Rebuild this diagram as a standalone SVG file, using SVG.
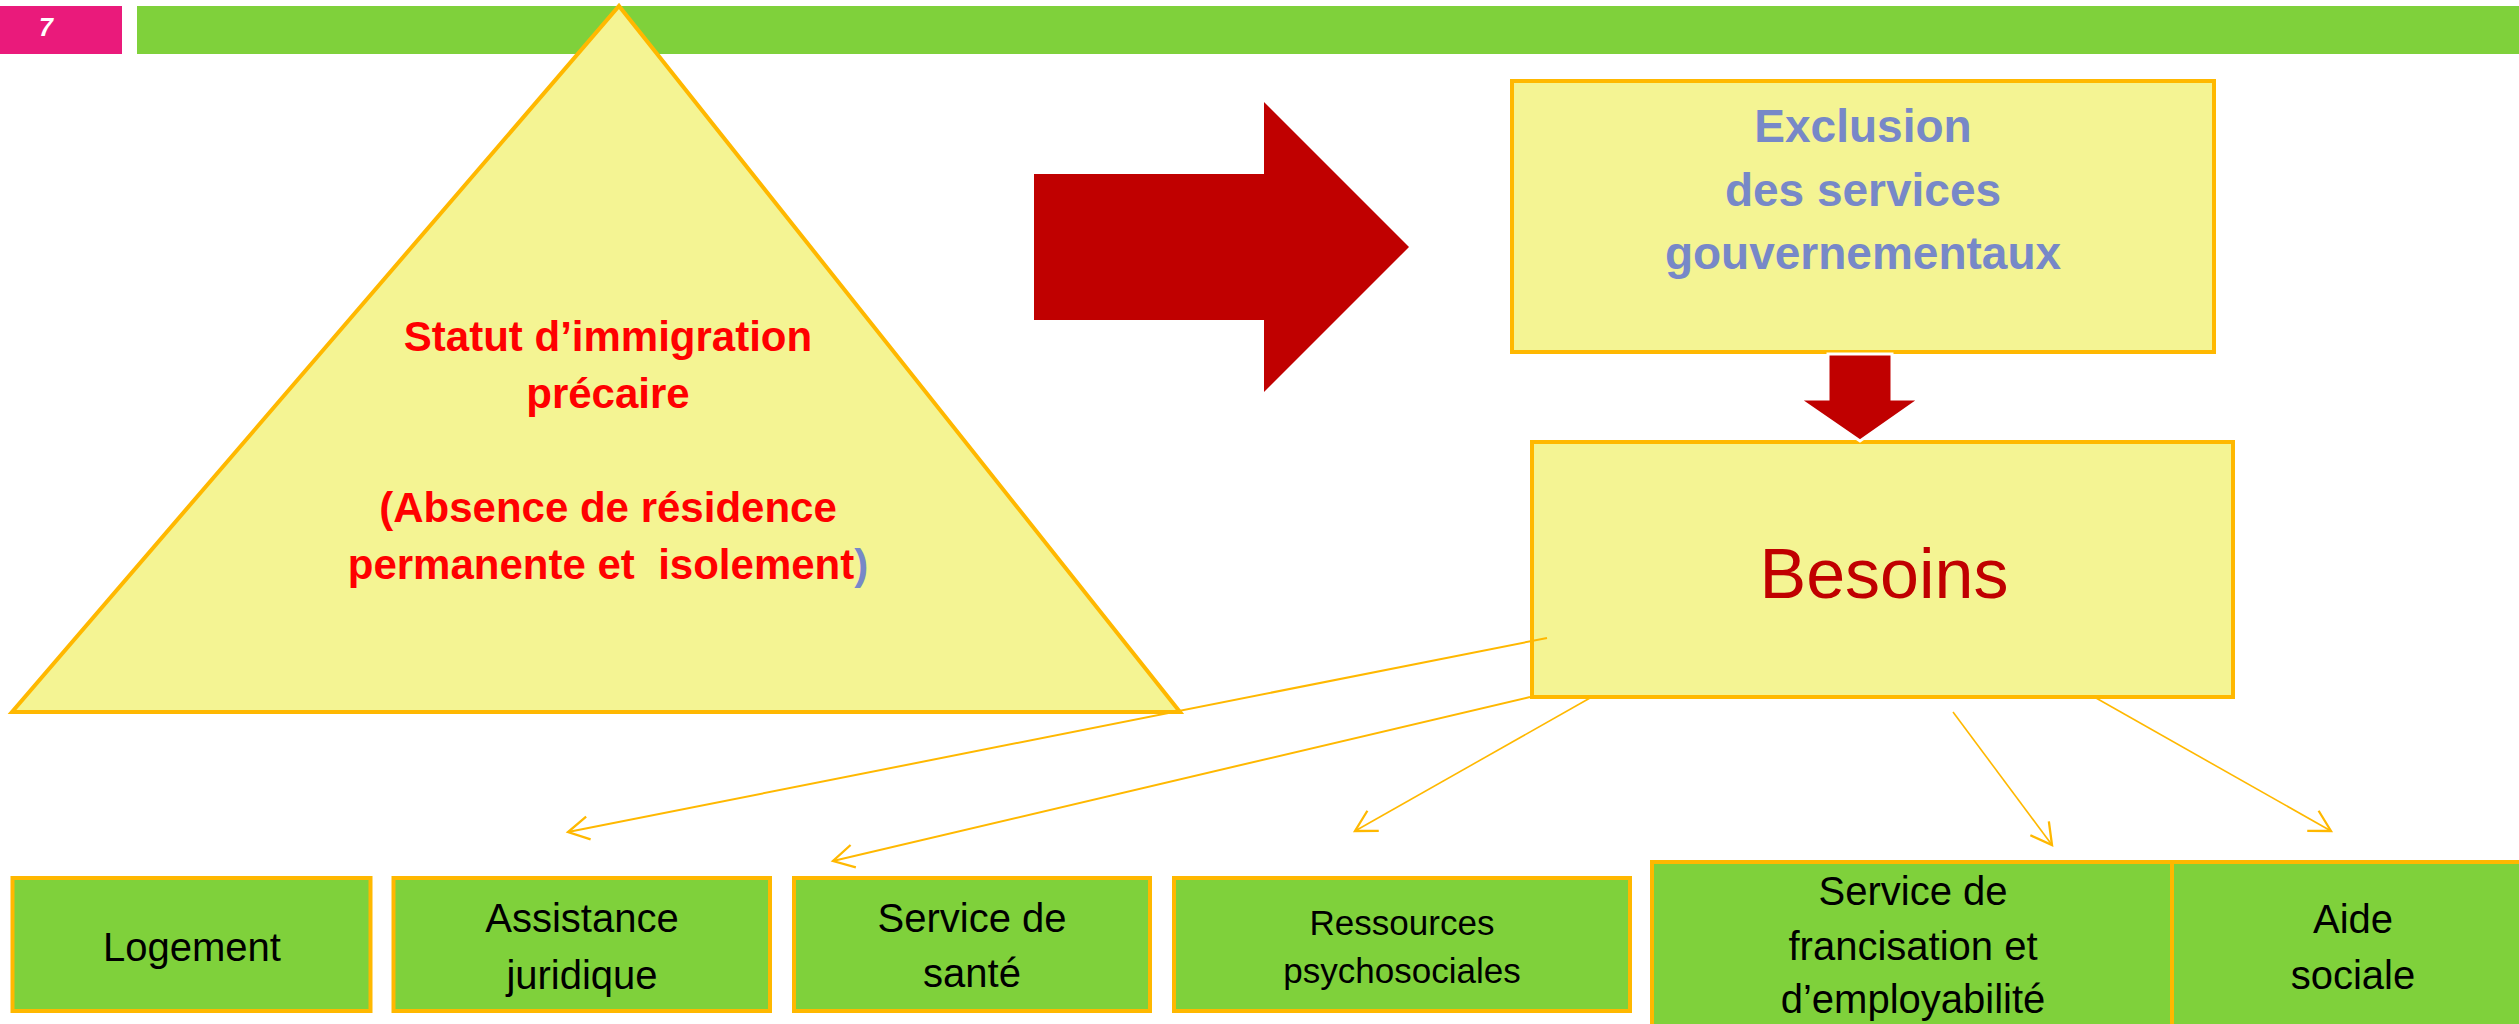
<svg xmlns="http://www.w3.org/2000/svg" width="2519" height="1024" viewBox="0 0 2519 1024">
<defs>
<marker id="openArrow" markerUnits="userSpaceOnUse" orient="auto" refX="0" refY="0" markerWidth="30" markerHeight="30" viewBox="-22 -13 26 26" overflow="visible">
<path d="M-18,-10 L0,0 L-18,10" fill="none" stroke="#FFB800" stroke-width="2"/>
</marker>
<style>
.yel{fill:#F4F493;stroke:#FFB800;stroke-width:4}
.grn{fill:#7FD13B;stroke:#FFB800;stroke-width:4}
.conn{fill:none;stroke:#FFB800;stroke-width:2;marker-end:url(#openArrow)}
.thin{stroke-width:1.6}
.red{fill:#FF0000;font-family:"Liberation Sans",Arial,sans-serif;font-weight:bold;font-size:42px;text-anchor:middle}
.blu{fill:#7788C8;font-family:"Liberation Sans",Arial,sans-serif;font-weight:bold;font-size:46px;text-anchor:middle}
.lab{fill:#000000;font-family:"Liberation Sans",Arial,sans-serif;font-size:40px;text-anchor:middle}
.blk{fill:#C00000;stroke:#FFFFFF;stroke-width:3}
</style>
</defs>
<rect width="2519" height="1024" fill="#FFFFFF"/>
<g id="header">
<rect x="0" y="6" width="122" height="48" fill="#EA1A7B"/>
<text x="39" y="36" fill="#FFFFFF" font-family="Liberation Sans, Arial, sans-serif" font-weight="bold" font-style="italic" font-size="25">7</text>
<rect x="137" y="6" width="2382" height="48" fill="#7FD13B"/>
</g>
<g id="node-statut">
<polygon class="yel" points="619,6 1180,712 12,712"/>
<text class="red" x="608" y="351">Statut d’immigration</text>
<text class="red" x="608" y="408">précaire</text>
<text class="red" x="608" y="522">(Absence de résidence</text>
<text class="red" x="608" y="579" xml:space="preserve" style="white-space:pre">permanente et  isolement<tspan fill="#7788C8">)</tspan></text>
</g>
<g id="node-exclusion">
<rect class="yel" x="1512" y="81" width="702" height="271"/>
<text class="blu" x="1863" y="142">Exclusion</text>
<text class="blu" x="1863" y="206">des services</text>
<text class="blu" x="1863" y="269">gouvernementaux</text>
</g>
<g id="node-besoins">
<rect class="yel" x="1532" y="442" width="701" height="255"/>
<text x="1884" y="598" fill="#C00000" font-family="Liberation Sans, Arial, sans-serif" font-size="70" text-anchor="middle">Besoins</text>
</g>
<g id="node-logement">
<rect class="grn" x="12.5" y="878" width="358" height="133"/>
<text class="lab" x="192" y="961">Logement</text>
</g>
<g id="node-assistance">
<rect class="grn" x="393.5" y="878" width="376.5" height="133"/>
<text class="lab" x="582" y="932">Assistance</text>
<text class="lab" x="582" y="989">juridique</text>
</g>
<g id="node-sante">
<rect class="grn" x="794" y="878" width="356" height="133"/>
<text class="lab" x="972" y="932">Service de</text>
<text class="lab" x="972" y="987">santé</text>
</g>
<g id="node-ressources">
<rect class="grn" x="1174" y="878" width="456" height="133"/>
<text class="lab" x="1402" y="935" style="font-size:35px">Ressources</text>
<text class="lab" x="1402" y="983" style="font-size:35px">psychosociales</text>
</g>
<g id="node-francisation">
<rect class="grn" x="1652" y="862" width="520" height="200"/>
<text class="lab" x="1913" y="905">Service de</text>
<text class="lab" x="1913" y="960">francisation et</text>
<text class="lab" x="1913" y="1013">d’employabilité</text>
</g>
<g id="node-aide">
<rect class="grn" x="2172" y="862" width="400" height="200"/>
<text class="lab" x="2353" y="933">Aide</text>
<text class="lab" x="2353" y="989">sociale</text>
</g>
<g id="connectors">
<polygon fill="#C00000" points="1034,174 1264,174 1264,102 1409,247 1264,392 1264,320 1034,320"/>
<polygon class="blk" points="1828,354 1892,354 1892,399 1920,399 1860,441 1799,399 1828,399"/>
<line class="conn" x1="1547" y1="638" x2="568" y2="832"/>
<line class="conn" x1="1530" y1="697" x2="833" y2="861"/>
<line class="conn thin" x1="1590" y1="698" x2="1355" y2="831"/>
<line class="conn thin" x1="1953" y1="712" x2="2052" y2="845"/>
<line class="conn thin" x1="2096" y1="698" x2="2331" y2="831"/>
</g>
</svg>
